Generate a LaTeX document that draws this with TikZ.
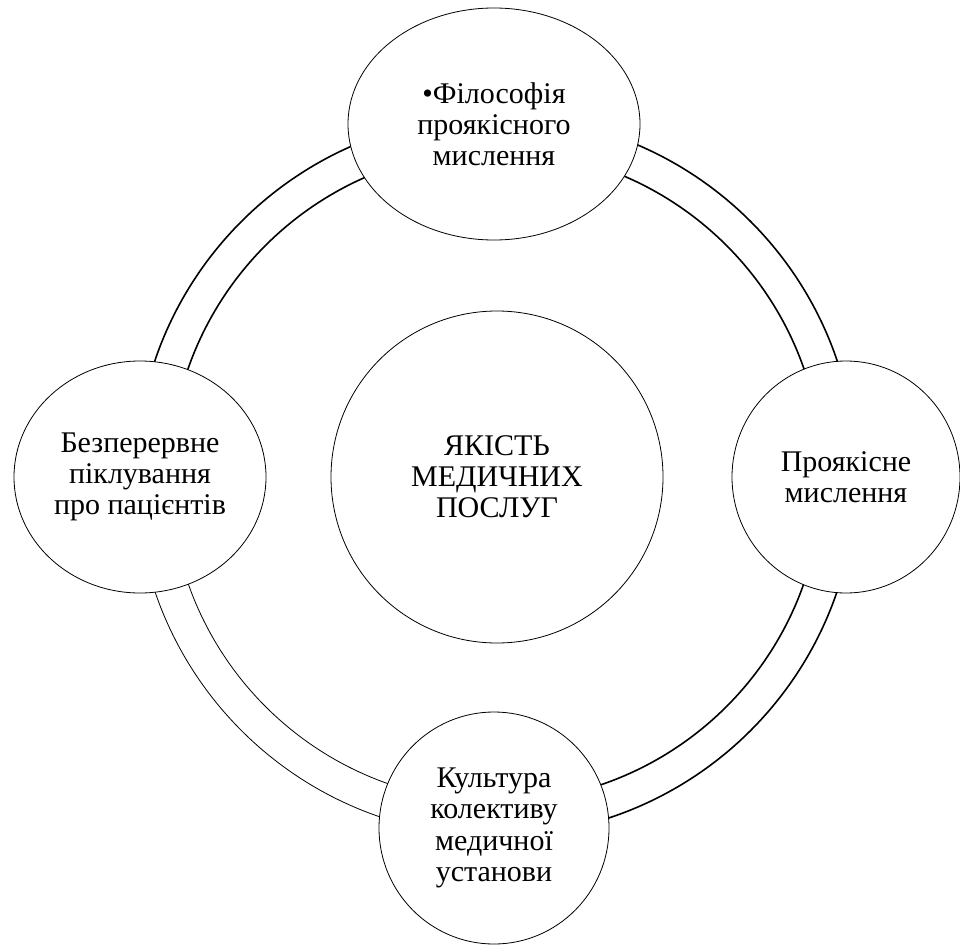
\documentclass[tikz,border=0pt]{standalone}
\usepackage{fontspec}
\setmainfont{Liberation Serif}
\usetikzlibrary{shapes.geometric}
\begin{document}
\begin{tikzpicture}[x=1pt,y=-1pt,
  bubble/.style={ellipse,draw=black,line width=0.8pt,fill=white,inner sep=0pt,
    align=center,font=\fontsize{30}{31.2}\selectfont},
  thinring/.style={line width=0.8pt},
  thickring/.style={line width=1.6pt}]
\useasboundingbox (0,0) rectangle (960,944);
\coordinate (hub) at (496,476);
% ring: two concentric outlines, split into quarters
\draw[thinring]  ([shift={(180:360)}]hub) arc[start angle=180,end angle=90,radius=360];
\draw[thinring]  ([shift={(180:326)}]hub) arc[start angle=180,end angle=90,radius=326];
\foreach \a in {90,0,-90}{
  \draw[thickring] ([shift={(\a:360)}]hub) arc[start angle=\a,end angle=\a-90,radius=360];
  \draw[thickring] ([shift={(\a:326)}]hub) arc[start angle=\a,end angle=\a-90,radius=326];
}
% centre and the four surrounding bubbles
\node[bubble,minimum width=332pt,minimum height=332pt] (core) at (497,477)
  {ЯКІСТЬ\\МЕДИЧНИХ\\ПОСЛУГ};
\node[bubble,minimum width=292pt,minimum height=232pt] (top) at (494,124)
  {•Філософія\\проякісного\\мислення};
\node[bubble,minimum width=228pt,minimum height=232pt] (right) at (846,477)
  {Проякісне\\мислення};
\node[bubble,minimum width=230pt,minimum height=232pt] (bottom) at (494,828)
  {Культура\\колективу\\медичної\\установи};
\node[bubble,minimum width=252pt,minimum height=232pt] (left) at (140,477)
  {Безперервне\\піклування\\про пацієнтів};
\end{tikzpicture}
\end{document}
